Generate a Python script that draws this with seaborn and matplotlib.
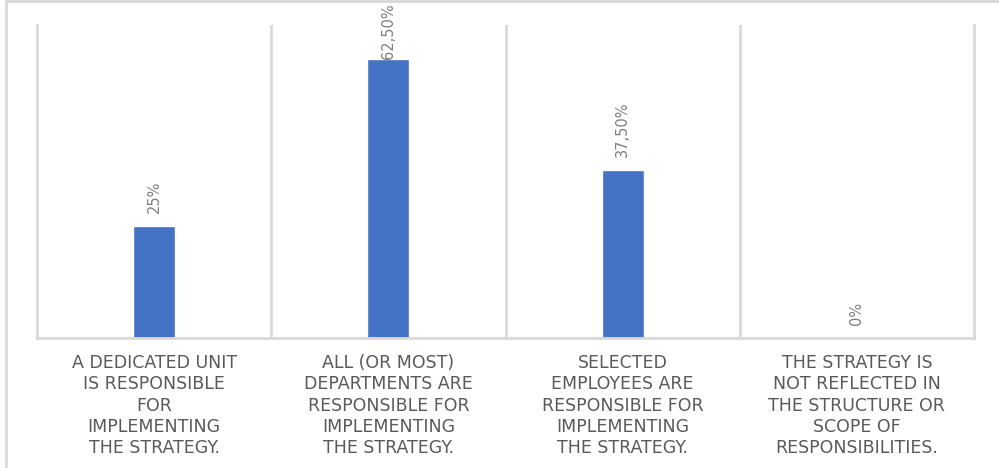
import matplotlib
matplotlib.use("Agg")
import matplotlib.pyplot as plt
import matplotlib.patches as mpatches
from matplotlib.ticker import FixedLocator
import seaborn as sns
import pandas as pd

# Responses: who is responsible for implementing the strategy
categories = [
    "A DEDICATED UNIT\nIS RESPONSIBLE\nFOR\nIMPLEMENTING\nTHE STRATEGY.",
    "ALL (OR MOST)\nDEPARTMENTS ARE\nRESPONSIBLE FOR\nIMPLEMENTING\nTHE STRATEGY.",
    "SELECTED\nEMPLOYEES ARE\nRESPONSIBLE FOR\nIMPLEMENTING\nTHE STRATEGY.",
    "THE STRATEGY IS\nNOT REFLECTED IN\nTHE STRUCTURE OR\nSCOPE OF\nRESPONSIBILITIES.",
]
shares = [25.0, 62.5, 37.5, 0.0]
value_labels = ["25%", "62,50%", "37,50%", "0%"]

sns.set_theme(style="white")
plt.rcParams["font.family"] = ["DejaVu Sans"]

BAR_BLUE = "#4472C4"
GRID_GRAY = "#D9D9D9"
TEXT_GRAY = "#595959"
LABEL_GRAY = "#7F7F7F"

W, H = 999, 468
fig = plt.figure(figsize=(W / 100, H / 100), dpi=100)
ax = fig.add_axes([37 / W, 1 - 338 / H, (974 - 37) / W, (338 - 25) / H])

df = pd.DataFrame({"category": categories, "share": shares})
sns.barplot(data=df, x="category", y="share", color=BAR_BLUE, width=0.18,
            saturation=1, ax=ax)

ax.set_xlim(-0.5, len(categories) - 0.5)
ax.set_ylim(0, 70)
ax.set_xlabel("")
ax.set_ylabel("")
ax.set_yticks([])

# Category separators
ax.xaxis.set_minor_locator(FixedLocator([i + 0.5 for i in range(len(categories) - 1)]))
ax.grid(which="minor", axis="x", color=GRID_GRAY, linewidth=2)
ax.grid(which="major", visible=False)
ax.tick_params(axis="x", which="both", length=0, pad=11.5)
ax.set_xticks(range(len(categories)))
ax.set_xticklabels(categories, fontsize=12.5, color=TEXT_GRAY,
                   linespacing=1.24, ha="center", va="top")

for side in ("left", "right", "bottom"):
    ax.spines[side].set_visible(True)
    ax.spines[side].set_color(GRID_GRAY)
    ax.spines[side].set_linewidth(2)
ax.spines["top"].set_visible(False)

# Rotated value labels above each bar, kept inside the chart frame
px_per_unit = (338 - 25) / 70
for i, (v, lab) in enumerate(zip(shares, value_labels)):
    bar_top_px = 338 - v * px_per_unit
    txt_len_px = 8.0 * len(lab) + 6
    offset_px = min(13, bar_top_px - 5 - txt_len_px)
    ax.annotate(lab, xy=(i, v), xytext=(0, offset_px * 0.72),
                textcoords="offset points", rotation=90,
                ha="center", va="bottom", fontsize=10.5, color=LABEL_GRAY,
                annotation_clip=False)

# Outer chart frame
fig.patches.append(mpatches.Rectangle(
    (5.5 / W, -0.2), 1.2, 1.2 - 1 / H, transform=fig.transFigure,
    fill=False, edgecolor=GRID_GRAY, linewidth=2, zorder=0))

fig.savefig("out.png", dpi=100, facecolor="white")
